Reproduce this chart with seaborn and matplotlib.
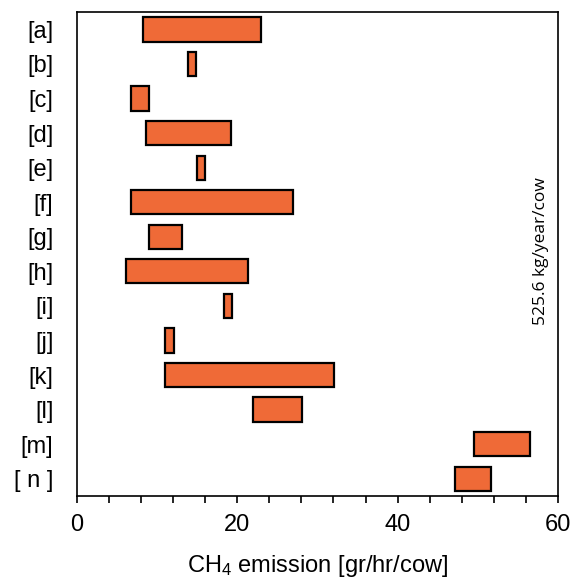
import matplotlib
matplotlib.use("Agg")
import matplotlib.pyplot as plt
from matplotlib.ticker import MultipleLocator
import seaborn as sns
import pandas as pd

labels = ["[a]", "[b]", "[c]", "[d]", "[e]", "[f]", "[g]", "[h]", "[i]", "[j]", "[k]", "[l]", "[m]", "[ n ]"]
start = [8.3, 13.8, 6.8, 8.6, 15.0, 6.8, 9.0, 6.1, 18.3, 11.0, 11.0, 22.0, 49.5, 47.2]
end = [23.0, 14.8, 9.0, 19.2, 16.0, 26.9, 13.1, 21.4, 19.4, 12.1, 32.1, 28.1, 56.5, 51.6]
annotation = "525.6 kg/year/cow"

sns.set_style("white")
plt.rcParams["font.family"] = ["Liberation Sans", "DejaVu Sans"]
plt.rcParams["mathtext.default"] = "regular"
plt.rcParams["text.color"] = "black"
plt.rcParams["axes.labelcolor"] = "black"
plt.rcParams["xtick.color"] = "black"
plt.rcParams["ytick.color"] = "black"

df = pd.DataFrame({"label": labels, "start": start, "end": end})
df["span"] = df["end"] - df["start"]

fig = plt.figure(figsize=(5.74, 5.79), dpi=100)
ax = fig.add_axes([0.134, 0.1434, 0.838, 0.8356])

sns.barplot(data=df, x="span", y="label", orient="h", color="#EF6A37",
            saturation=1, width=0.7, edgecolor="black", linewidth=1.6, ax=ax)
for patch, s in zip(ax.patches, df["start"]):
    patch.set_x(s)

ax.set_xlim(0, 60)
ax.set_ylim(13.5, -0.5)
ax.xaxis.set_major_locator(MultipleLocator(20))
ax.xaxis.set_minor_locator(MultipleLocator(4))
ax.tick_params(axis="x", which="both", direction="out", length=5, width=1.2,
               bottom=True, labelsize=17, pad=8, color="black", labelcolor="black")
ax.tick_params(axis="y", length=0, labelsize=17, pad=17, labelcolor="black")
for sp in ax.spines.values():
    sp.set_visible(True)
    sp.set_linewidth(1.2)
    sp.set_color("black")

ax.set_ylabel("")
ax.set_xlabel("CH$_4$ emission [gr/hr/cow]", fontsize=17, labelpad=12, color="black")

ax.text(57.9, 6.4, annotation, rotation=90, ha="center", va="center",
        fontsize=12.5, color="black", family=["Open Sans", "DejaVu Sans"])

fig.savefig("out.png", dpi=100)
